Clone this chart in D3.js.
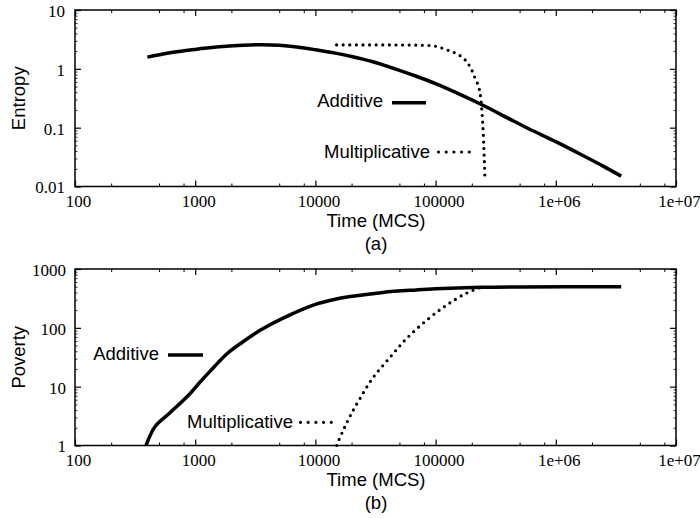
<!DOCTYPE html>
<html>
<head>
<meta charset="utf-8">
<script src="https://cdn.jsdelivr.net/npm/d3@7"></script>
<style>
  body { margin: 0; background: #fff; }
  svg { display: block; }
</style>
</head>
<body>
<svg id="chart" width="700" height="518"></svg>
<script>
// ---------- data ----------
const xTickValues = [100, 1000, 10000, 100000, 1000000, 10000000];
const xTickLabels = ["100", "1000", "10000", "100000", "1e+06", "1e+07"];

const entropyTickValues = [0.01, 0.1, 1, 10];
const entropyTickLabels = ["0.01", "0.1", "1", "10"];
const povertyTickValues = [1, 10, 100, 1000];
const povertyTickLabels = ["1", "10", "100", "1000"];

// Entropy, additive
const entAddTime = [400, 600, 1000, 1500, 2500, 3600, 5000, 7000, 10000, 15000, 20000, 30000, 50000, 70000, 100000, 150000, 250000, 400000, 600000, 1000000, 1500000, 2500000, 3500000];
const entAddValue = [1.58, 1.86, 2.14, 2.34, 2.51, 2.57, 2.51, 2.35, 2.11, 1.83, 1.62, 1.32, 0.944, 0.741, 0.561, 0.39, 0.238, 0.145, 0.095, 0.058, 0.038, 0.022, 0.015];

// Entropy, multiplicative
const entMulTime = [15000, 30000, 60000, 85000, 100000, 124000, 150000, 176000, 200000, 213000, 234000, 241000, 249000, 257000];
const entMulValue = [2.55, 2.55, 2.53, 2.5, 2.42, 2.1, 1.8, 1.42, 0.95, 0.69, 0.39, 0.23, 0.082, 0.015];

// Poverty, additive
const povAddTime = [390, 464, 617, 905, 1100, 1320, 1830, 2500, 3440, 6150, 10000, 14000, 19500, 36500, 69000, 100000, 240000, 500000, 3500000];
const povAddValue = [1, 2.1, 3.6, 7.6, 12, 18, 36, 58, 90, 166, 250, 300, 340, 400, 440, 460, 488, 496, 500];

// Poverty, multiplicative
const povMulTime = [15000, 17000, 19500, 23500, 30000, 42000, 57000, 85000, 124000, 180000, 246000];
const povMulValue = [1, 1.8, 3.2, 6.3, 14, 32, 65, 137, 245, 387, 500];

const seriesNames = ["Additive", "Multiplicative"];

// ---------- drawing ----------
const svg = d3.select("#chart");
svg.append("rect").attr("width", 700).attr("height", 518).attr("fill", "#fff");

const left = 75, right = 676;
const x = d3.scaleLog().domain([100, 1e7]).range([left, right]);
const serifFont = "'Liberation Serif', 'Times New Roman', serif";
const sansFont = "'Liberation Sans', Arial, Helvetica, sans-serif";

function minorTicks(domainMin, domainMax, mults) {
  const out = [];
  for (let d = domainMin; d < domainMax * 0.999; d *= 10) {
    mults.forEach(m => { const v = d * m; if (v > domainMin && v < domainMax) out.push(v); });
  }
  return out;
}

function panel(opts) {
  const y = d3.scaleLog().domain(opts.yDomain).range([opts.bottom, opts.top]);
  const g = svg.append("g");
  const H = opts.bottom - opts.top, W = right - left;

  const xMinor = minorTicks(100, 1e7, [2, 5, 8]);
  const yMinor = minorTicks(opts.yDomain[0], opts.yDomain[1], [2, 3, 4, 5, 6, 7, 8, 9]);

  function styleAxis(sel) {
    sel.select(".domain").remove();
    sel.attr("font-family", null).attr("font-size", null);
    sel.selectAll(".tick line").attr("stroke", "#000");
    return sel;
  }

  // bottom axis with labels
  const xb = g.append("g").attr("transform", `translate(0,${opts.bottom})`)
    .call(d3.axisBottom(x).tickValues(xTickValues).tickSize(-6).tickSizeOuter(0)
      .tickFormat((d, i) => xTickLabels[i]));
  styleAxis(xb);
  xb.selectAll(".tick line").attr("stroke-width", 1.2);
  xb.selectAll("text").style("font-family", serifFont)
    .style("font-size", "17px").attr("fill", "#000").attr("y", 8).attr("dx", 3);
  const xbm = g.append("g").attr("transform", `translate(0,${opts.bottom})`)
    .call(d3.axisBottom(x).tickValues(xMinor).tickSize(-3).tickFormat(""));
  styleAxis(xbm);

  // top axis
  const xt = g.append("g").attr("transform", `translate(0,${opts.top})`)
    .call(d3.axisTop(x).tickValues(xTickValues).tickSize(-6).tickFormat(""));
  styleAxis(xt);
  xt.selectAll(".tick line").attr("stroke-width", 1.2);
  const xtm = g.append("g").attr("transform", `translate(0,${opts.top})`)
    .call(d3.axisTop(x).tickValues(xMinor).tickSize(-3).tickFormat(""));
  styleAxis(xtm);

  // left axis with labels
  const yl = g.append("g").attr("transform", `translate(${left},0)`)
    .call(d3.axisLeft(y).tickValues(opts.yTicks).tickSize(-6).tickSizeOuter(0)
      .tickFormat((d, i) => opts.yLabels[i]));
  styleAxis(yl);
  yl.selectAll(".tick line").attr("stroke-width", 1.2);
  yl.selectAll("text").style("font-family", serifFont)
    .style("font-size", "17px").attr("fill", "#000").attr("x", -opts.labelGap).attr("dy", "0.38em");
  const ylm = g.append("g").attr("transform", `translate(${left},0)`)
    .call(d3.axisLeft(y).tickValues(yMinor).tickSize(-2.5).tickFormat(""));
  styleAxis(ylm);
  ylm.selectAll(".tick line").attr("stroke-width", 0.8);

  // right axis
  const yr = g.append("g").attr("transform", `translate(${right},0)`)
    .call(d3.axisRight(y).tickValues(opts.yTicks).tickSize(-6).tickFormat(""));
  styleAxis(yr);
  yr.selectAll(".tick line").attr("stroke-width", 1.2);
  const yrm = g.append("g").attr("transform", `translate(${right},0)`)
    .call(d3.axisRight(y).tickValues(yMinor).tickSize(-2.5).tickFormat(""));
  styleAxis(yrm);
  yrm.selectAll(".tick line").attr("stroke-width", 0.8);

  // frame
  g.append("rect").attr("x", left).attr("y", opts.top).attr("width", W).attr("height", H)
    .attr("fill", "none").attr("stroke", "#000").attr("stroke-width", 1.5);

  // clip
  const clipId = "clip" + opts.id;
  svg.append("clipPath").attr("id", clipId).append("rect")
    .attr("x", left).attr("y", opts.top - 2).attr("width", W).attr("height", H + 4);

  const smooth = d3.line().x(d => x(d[0])).y(d => y(d[1])).curve(d3.curveCatmullRom.alpha(0.5));
  const mono = d3.line().x(d => x(d[0])).y(d => y(d[1])).curve(d3.curveMonotoneX);

  const addData = opts.addT.map((t, i) => [t, opts.addV[i]]);
  const mulData = opts.mulT.map((t, i) => [t, opts.mulV[i]]);

  const plot = g.append("g").attr("clip-path", `url(#${clipId})`);
  plot.append("path").datum(addData).attr("d", smooth)
    .attr("fill", "none").attr("stroke", "#000").attr("stroke-width", 3.5)
    .attr("stroke-linejoin", "round");
  plot.append("path").datum(mulData).attr("d", opts.mulMono ? mono : smooth)
    .attr("fill", "none").attr("stroke", "#000").attr("stroke-width", 3.2)
    .attr("stroke-linecap", "round").attr("stroke-dasharray", "0 6.6");

  // legend
  const la = opts.legAdd, lm = opts.legMul;
  g.append("text").attr("x", la.textX).attr("y", la.y + 4.5).attr("text-anchor", "end")
    .style("font-family", sansFont).style("font-size", "18.5px").attr("fill", "#000").text(seriesNames[0]);
  g.append("line").attr("x1", la.x1).attr("x2", la.x2).attr("y1", la.y).attr("y2", la.y)
    .attr("stroke", "#000").attr("stroke-width", 3.5);
  g.append("text").attr("x", lm.textX).attr("y", lm.y + 5.5).attr("text-anchor", "end")
    .style("font-family", sansFont).style("font-size", "18.5px").attr("fill", "#000").text(seriesNames[1]);
  g.append("line").attr("x1", lm.x1).attr("x2", lm.x2).attr("y1", lm.y).attr("y2", lm.y)
    .attr("stroke", "#000").attr("stroke-width", 3.2).attr("stroke-linecap", "round")
    .attr("stroke-dasharray", "0 7.7");

  // axis titles
  const midX = 376;
  g.append("text").attr("x", midX).attr("y", opts.bottom + 40).attr("text-anchor", "middle")
    .style("font-family", sansFont).style("font-size", "18.5px").attr("fill", "#000").text("Time (MCS)");
  g.append("text").attr("x", midX).attr("y", opts.bottom + 63).attr("text-anchor", "middle")
    .style("font-family", sansFont).style("font-size", "18.5px").attr("fill", "#000").text(opts.tag);
  g.append("text").attr("transform", `translate(25,${(opts.top + opts.bottom) / 2}) rotate(-90)`)
    .attr("text-anchor", "middle").style("font-family", sansFont).style("font-size", "18.5px")
    .attr("fill", "#000").text(opts.yTitle);
}

panel({
  id: "a", top: 10, bottom: 186.5, yDomain: [0.01, 10],
  yTicks: entropyTickValues, yLabels: entropyTickLabels, labelGap: 10,
  addT: entAddTime, addV: entAddValue, mulT: entMulTime, mulV: entMulValue, mulMono: true,
  legAdd: { textX: 383, x1: 392, x2: 426, y: 102.7 },
  legMul: { textX: 430, x1: 438.5, x2: 469.5, y: 152 },
  tag: "(a)", yTitle: "Entropy"
});

panel({
  id: "b", top: 269, bottom: 445.5, yDomain: [1, 1000],
  yTicks: povertyTickValues, yLabels: povertyTickLabels, labelGap: 9,
  addT: povAddTime, addV: povAddValue, mulT: povMulTime, mulV: povMulValue, mulMono: false,
  legAdd: { textX: 159, x1: 168, x2: 203, y: 355 },
  legMul: { textX: 293, x1: 300.5, x2: 331.5, y: 422.3 },
  tag: "(b)", yTitle: "Poverty"
});
</script>
</body>
</html>
